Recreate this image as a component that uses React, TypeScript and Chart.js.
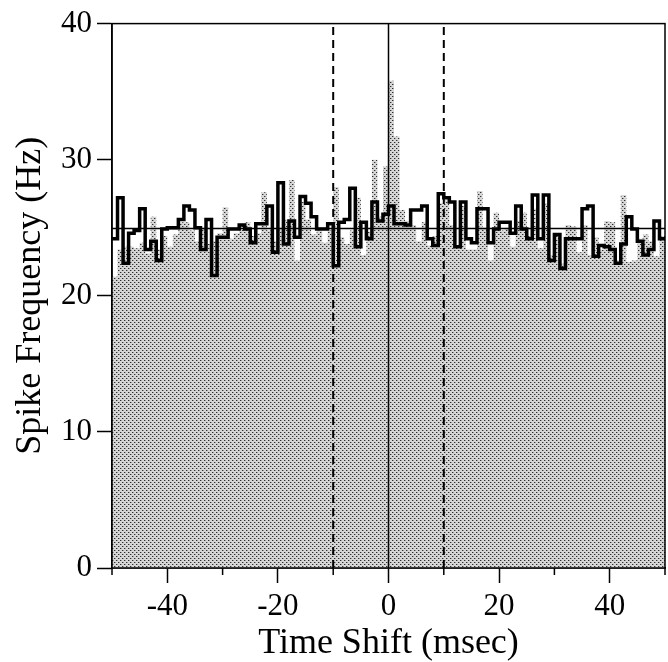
import React, { useEffect, useRef } from 'react';
import { Chart, registerables } from 'chart.js';

Chart.register(...registerables);

// Left edge of each 1-ms bin (msec)
const binStartMs = [
  -50, -49, -48, -47, -46, -45, -44, -43, -42, -41,
  -40, -39, -38, -37, -36, -35, -34, -33, -32, -31,
  -30, -29, -28, -27, -26, -25, -24, -23, -22, -21,
  -20, -19, -18, -17, -16, -15, -14, -13, -12, -11,
  -10, -9, -8, -7, -6, -5, -4, -3, -2, -1,
  0, 1, 2, 3, 4, 5, 6, 7, 8, 9,
  10, 11, 12, 13, 14, 15, 16, 17, 18, 19,
  20, 21, 22, 23, 24, 25, 26, 27, 28, 29,
  30, 31, 32, 33, 34, 35, 36, 37, 38, 39,
  40, 41, 42, 43, 44, 45, 46, 47, 48, 49,
];
const binEndMs = 50;

// Stippled histogram (observed spike frequency, Hz)
const observedHz = [
  21.4, 23.4, 23.6, 23.6, 23.5, 23.9, 23.1, 25.8, 23.4, 24.4,
  23.6, 24.5, 25.4, 25.4, 24.8, 24.0, 25.0, 23.8, 24.0, 24.6,
  26.5, 24.2, 24.6, 25.3, 25.4, 24.4, 24.6, 27.6, 24.8, 24.0,
  25.0, 25.6, 28.5, 22.6, 26.9, 25.6, 24.5, 24.8, 23.9, 24.8,
  28.0, 24.3, 23.8, 24.8, 27.2, 23.0, 24.7, 30.0, 25.8, 29.5,
  35.8, 31.7, 26.3, 25.5, 25.2, 24.0, 25.4, 23.7, 24.4, 26.8,
  27.0, 25.2, 23.6, 26.6, 23.4, 23.4, 27.7, 25.0, 22.6, 26.1,
  24.8, 25.0, 23.6, 25.5, 26.1, 24.4, 26.4, 23.5, 26.8, 23.0,
  24.6, 22.4, 25.2, 25.1, 23.2, 25.2, 23.0, 24.3, 23.4, 25.5,
  25.4, 22.6, 27.4, 22.5, 22.6, 24.2, 24.5, 24.0, 22.9, 24.4,
];

// Thick black step line (predicted / shuffled, Hz)
const predictedHz = [
  24.2, 27.2, 22.4, 24.6, 24.8, 26.4, 23.4, 24.0, 22.6, 24.9,
  25.0, 25.0, 25.6, 26.6, 26.3, 25.0, 23.4, 25.6, 21.5, 24.3,
  24.3, 24.9, 24.9, 25.2, 24.9, 23.9, 25.3, 25.3, 26.6, 23.2,
  28.3, 23.8, 25.5, 24.3, 27.3, 26.8, 25.8, 24.9, 24.9, 25.3,
  22.2, 25.4, 25.6, 27.9, 23.6, 25.4, 24.2, 26.9, 25.5, 26.0,
  26.6, 25.3, 25.3, 25.2, 26.3, 26.3, 26.6, 24.2, 23.7, 27.5,
  27.2, 26.9, 23.6, 26.9, 24.2, 23.9, 26.4, 26.4, 23.9, 24.9,
  25.4, 25.4, 24.6, 26.6, 24.9, 24.2, 27.4, 24.2, 27.4, 22.6,
  24.5, 22.0, 24.2, 24.2, 24.2, 26.4, 26.6, 22.9, 23.7, 23.6,
  23.4, 22.4, 23.8, 25.8, 24.9, 24.0, 23.0, 23.4, 25.5, 24.2,
];

const meanHz = 24.95;
const solidMarkerMs = [0];
const dashedMarkerMs = [-10, 10];
const labeledTicksMs = [-40, -20, 0, 20, 40];
const yMin = 0;
const yMax = 40;
const xMin = -50;
const xMax = 50;

const FONT = '"Liberation Serif", "Times New Roman", Times, serif';

function makeStipple(): CanvasPattern | string {
  const c = document.createElement('canvas');
  c.width = 4;
  c.height = 4;
  const g = c.getContext('2d');
  if (!g) return '#bbbbbb';
  g.fillStyle = '#d6d6d6';
  g.fillRect(0, 0, 4, 4);
  g.fillStyle = '#2e2e2e';
  [[0, 0], [2, 2]].forEach(([x, y]) => g.fillRect(x, y, 1, 1));
  g.fillStyle = '#9a9a9a';
  [[1, 0], [3, 2]].forEach(([x, y]) => g.fillRect(x, y, 1, 1));
  return g.createPattern(c, 'repeat') || '#bbbbbb';
}

export default function App() {
  const ref = useRef<HTMLCanvasElement>(null);

  useEffect(() => {
    const canvas = ref.current;
    if (!canvas) return;

    const stepData = (vals: number[]) => [
      ...binStartMs.map((x, i) => ({ x, y: vals[i] })),
      { x: binEndMs, y: vals[vals.length - 1] },
    ];
    const vline = (x: number) => [
      { x, y: yMin },
      { x, y: yMax },
    ];

    const framePlugin = {
      id: 'frameAndMinorTicks',
      afterDraw(chart: any) {
        const { ctx, chartArea: a, scales } = chart;
        ctx.save();
        ctx.strokeStyle = '#000';
        ctx.lineWidth = 1.5;
        ctx.strokeRect(a.left, a.top, a.right - a.left, a.bottom - a.top);
        const xs = scales.x;
        xs.ticks.forEach((t: any) => {
          if (!labeledTicksMs.includes(t.value)) {
            const px = xs.getPixelForValue(t.value);
            ctx.beginPath();
            ctx.moveTo(px, a.bottom);
            ctx.lineTo(px, a.bottom + 7);
            ctx.stroke();
          }
        });
        ctx.restore();
      },
    };

    const datasets: any[] = [
      {
        label: 'observed',
        data: stepData(observedHz),
        stepped: 'before',
        borderWidth: 0,
        borderColor: 'rgba(0,0,0,0)',
        backgroundColor: makeStipple(),
        fill: 'origin',
        pointRadius: 0,
        order: 10,
      },
      {
        label: 'mean',
        data: [
          { x: xMin, y: meanHz },
          { x: xMax, y: meanHz },
        ],
        borderColor: '#000',
        borderWidth: 1.5,
        pointRadius: 0,
        fill: false,
        order: 8,
      },
      ...solidMarkerMs.map((m) => ({
        label: 'zero',
        data: vline(m),
        borderColor: '#000',
        borderWidth: 1.5,
        pointRadius: 0,
        fill: false,
        order: 6,
      })),
      ...dashedMarkerMs.map((m) => ({
        label: 'dash',
        data: vline(m),
        borderColor: '#000',
        borderWidth: 2,
        borderDash: [8, 5],
        pointRadius: 0,
        fill: false,
        order: 6,
      })),
      {
        label: 'predicted',
        data: stepData(predictedHz),
        stepped: 'before',
        borderColor: '#000',
        borderWidth: 3.5,
        borderJoinStyle: 'miter',
        borderCapStyle: 'butt',
        pointRadius: 0,
        fill: false,
        order: 1,
      },
    ];

    const chart = new Chart(canvas, {
      type: 'line',
      data: { datasets },
      options: {
        responsive: false,
        animation: false,
        events: [],
        layout: { padding: { top: 20, left: 0, right: 0, bottom: 0 } },
        plugins: {
          legend: { display: false },
          tooltip: { enabled: false },
        },
        scales: {
          x: {
            type: 'linear',
            min: xMin,
            max: xMax,
            offset: false,
            afterFit: (s: any) => {
              s.height = 97;
            },
            grid: {
              display: true,
              drawOnChartArea: false,
              drawTicks: true,
              tickLength: 15,
              tickWidth: 1.5,
              tickColor: (c: any) =>
                c.tick && labeledTicksMs.includes(c.tick.value) ? '#000' : 'rgba(0,0,0,0)',
            },
            border: { display: true, color: '#000', width: 1.5 },
            ticks: {
              stepSize: 10,
              autoSkip: false,
              maxRotation: 0,
              padding: 5,
              color: '#000',
              font: { family: FONT, size: 31 },
              callback: (v: any) => (labeledTicksMs.includes(Number(v)) ? String(v) : ''),
            },
            title: {
              display: true,
              text: 'Time Shift (msec)',
              color: '#000',
              font: { family: FONT, size: 36 },
              padding: { top: 0, bottom: 0 },
            },
          },
          y: {
            type: 'linear',
            min: yMin,
            max: yMax,
            afterFit: (s: any) => {
              s.width = 112;
            },
            grid: {
              display: true,
              drawOnChartArea: false,
              drawTicks: true,
              tickLength: 15,
              tickWidth: 1.5,
              tickColor: '#000',
            },
            border: { display: true, color: '#000', width: 1.5 },
            ticks: {
              stepSize: 10,
              padding: 5,
              color: '#000',
              font: { family: FONT, size: 31 },
            },
            title: {
              display: true,
              text: 'Spike Frequency (Hz)',
              color: '#000',
              font: { family: FONT, size: 36 },
              padding: { top: 9, bottom: 0 },
            },
          },
        },
      } as any,
      plugins: [framePlugin],
    });

    return () => chart.destroy();
  }, []);

  return (
    <div
      style={{
        position: 'fixed',
        left: 0,
        top: 0,
        width: 668,
        height: 662,
        overflow: 'hidden',
        background: '#fff',
      }}
    >
      <canvas ref={ref} width={670} height={665} style={{ display: 'block', width: 670, height: 665 }} />
    </div>
  );
}
